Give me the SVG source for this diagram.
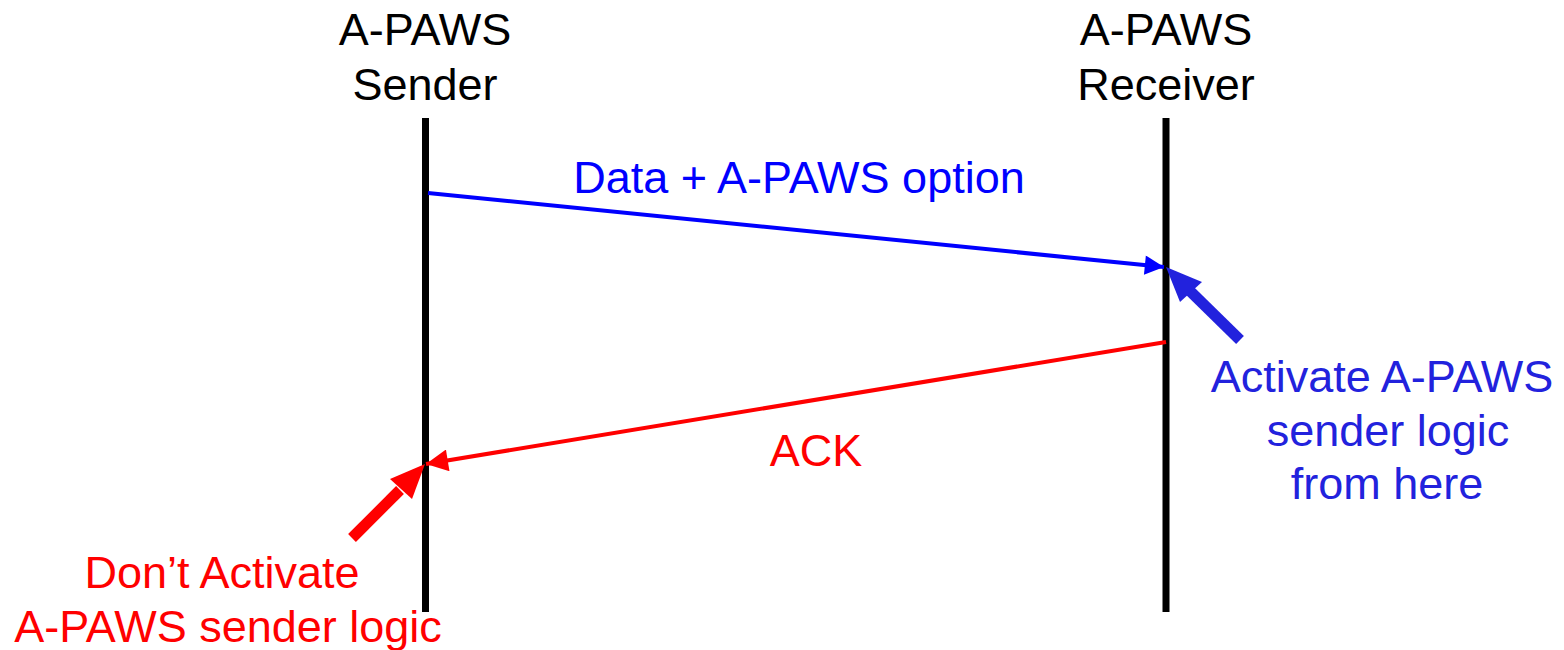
<svg xmlns="http://www.w3.org/2000/svg" width="1564" height="650" viewBox="0 0 1564 650">
  <style>
    text { font-family: "Liberation Sans", Arial, sans-serif; font-size: 45px; text-anchor: middle; }
    .lbl { fill: #000; }
    .blue { fill: #0000ff; }
    .note-blue { fill: #2222dd; }
    .red { fill: #ff0000; }
    .life { stroke: #000; stroke-width: 7; }
  </style>
  <defs>
    <marker id="headBlue" viewBox="0 0 10 10" refX="10" refY="5" markerWidth="6" markerHeight="4.8" orient="auto" markerUnits="strokeWidth">
      <path d="M0,0 L10,5 L0,10 Z" fill="#0000ff"/>
    </marker>
    <marker id="headRed" viewBox="0 0 10 10" refX="10" refY="5" markerWidth="6" markerHeight="5.5" orient="auto" markerUnits="strokeWidth">
      <path d="M0,0 L10,5 L0,10 Z" fill="#ff0000"/>
    </marker>
  </defs>

  <!-- lifelines -->
  <g id="sender">
    <text class="lbl" x="425" y="45">A-PAWS</text>
    <text class="lbl" x="425" y="100">Sender</text>
    <line class="life" x1="425.5" y1="118" x2="425.5" y2="612"/>
  </g>
  <g id="receiver">
    <text class="lbl" x="1166" y="45">A-PAWS</text>
    <text class="lbl" x="1166" y="100">Receiver</text>
    <line class="life" x1="1166" y1="118" x2="1166" y2="612"/>
  </g>

  <!-- messages -->
  <g id="connectors">
    <line x1="428" y1="193" x2="1164" y2="267" stroke="#0000ff" stroke-width="4" marker-end="url(#headBlue)"/>
    <line x1="1166" y1="342" x2="426" y2="464" stroke="#ff0000" stroke-width="4" marker-end="url(#headRed)"/>
    <!-- pointer arrows -->
    <line x1="1240" y1="340" x2="1190" y2="291" stroke="#2222dd" stroke-width="11"/>
    <path d="M1166,267 L1180,302 L1202,282 Z" fill="#2222dd"/>
    <line x1="352" y1="538" x2="400" y2="490" stroke="#ff0000" stroke-width="11"/>
    <path d="M425,464 L390,479 L412,499 Z" fill="#ff0000"/>
  </g>

  <g id="label-data">
    <text class="blue" x="799" y="193">Data + A-PAWS option</text>
  </g>
  <g id="label-ack">
    <text class="red" x="816" y="466">ACK</text>
  </g>
  <g id="note-activate">
    <text class="note-blue" x="1382" y="392">Activate A-PAWS</text>
    <text class="note-blue" x="1388" y="446">sender logic</text>
    <text class="note-blue" x="1387" y="499">from here</text>
  </g>
  <g id="note-dont">
    <text class="red" x="222" y="588">Don’t Activate</text>
    <text class="red" x="228" y="642">A-PAWS sender logic</text>
  </g>
</svg>
